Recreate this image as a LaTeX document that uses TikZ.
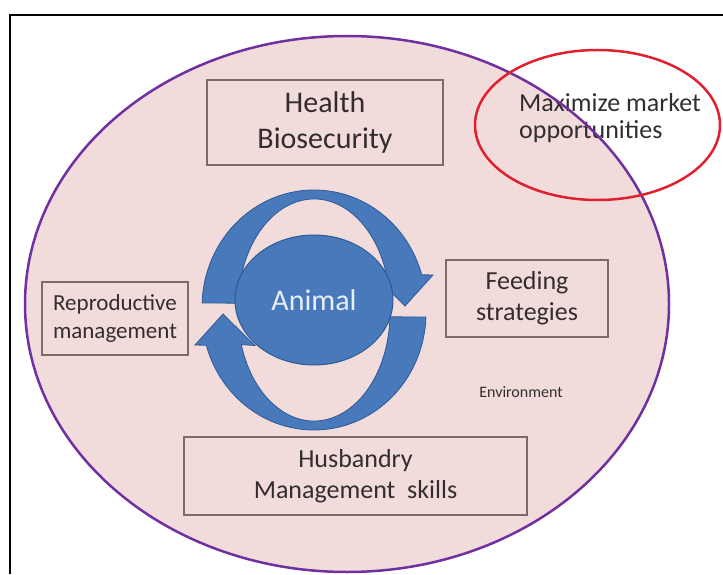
\documentclass[tikz,border=0pt]{standalone}
\usepackage{fontspec}
\setmainfont{Carlito}
\usepackage{tikz}
\usetikzlibrary{shapes.geometric}
\definecolor{FieldPink}{HTML}{F2DCDB}
\definecolor{FieldPurple}{HTML}{7030A0}
\definecolor{MarketRed}{HTML}{E0202E}
\definecolor{BoxEdge}{HTML}{7F6A6A}
\definecolor{InkGray}{HTML}{332D2E}
\definecolor{CycleBlue}{HTML}{4879BA}
\definecolor{CycleEdge}{HTML}{2D5A96}
\definecolor{AnimalText}{HTML}{E6EEF8}

\begin{document}
\begin{tikzpicture}[x=1pt, y=1pt, every node/.style={text=InkGray}]
  \tikzstyle{panel}=[rectangle, draw=BoxEdge, line width=1.2pt, fill=FieldPink,
  align=center, inner sep=0pt]
  \tikzstyle{turnarrow}=[fill=CycleBlue, draw=CycleEdge, line width=0.8pt]
  \useasboundingbox (0,0) rectangle (723,574);
  % frame
  \draw[line width=2pt] (10,0) -- (10,559) -- (724,559);
  % environment field
  \fill[FieldPink] (347,270) ellipse [x radius=322, y radius=268];
  \node[anchor=west, align=left, inner sep=0pt, font=\fontsize{26}{27}\selectfont] (market) at (519,456) {Maximize market\\opportunities};
  \draw[FieldPurple, line width=2.5pt] (347,270) ellipse [x radius=322, y radius=268];
  \draw[MarketRed, line width=2.5pt] (597.5,449) ellipse [x radius=122.5, y radius=75];
  % boxes
  \node[panel, minimum width=236, minimum height=85, font=\fontsize{30}{36}\selectfont] (health) at (325,451.5) {Health\\Biosecurity};
  \node[panel, minimum width=146, minimum height=73, font=\fontsize{23}{28}\selectfont] (repro) at (115,255.5) {Reproductive\\management};
  \node[panel, minimum width=162, minimum height=77, font=\fontsize{26}{31}\selectfont] (feeding) at (527,275.5) {Feeding\\strategies};
  \node[panel, minimum width=343, minimum height=78, font=\fontsize{26}{31}\selectfont] (husbandry) at (355.5,98) {Husbandry\\Management\ \ skills};
  \node[font=\fontsize{16}{19}\selectfont] (env) at (521,182) {Environment};
  % cycle arrows
  \coordinate (hub) at (314,267);
  \foreach \turn/\pivot in {0/267, 180/264} {
    \draw[turnarrow, rotate around={\turn:(314,\pivot)}] (202.1,271.1)
      arc[start angle=178, end angle=16, x radius=112, y radius=117]
      -- (433,299) -- (405,268) -- (373,299.5) -- (386.7,298.6)
      arc[start angle=17, end angle=178, x radius=76, y radius=108] -- cycle;
  }
  \node[ellipse, fill=CycleBlue, draw=CycleEdge, line width=1pt, minimum width=158, minimum height=130,
  inner sep=0pt, text=AnimalText, font=\fontsize{30}{35}\selectfont] (animal) at (314,274) {Animal};
\end{tikzpicture}
\end{document}
